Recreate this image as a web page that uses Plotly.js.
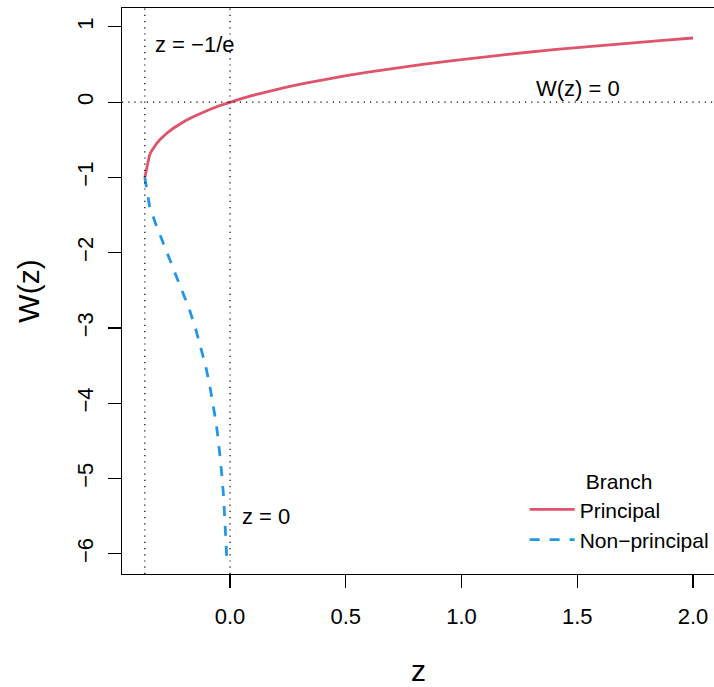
<!DOCTYPE html>
<html>
<head>
<meta charset="utf-8">
<script src="https://cdn.plot.ly/plotly-3.0.1.min.js"></script>
<style>
  html, body { margin: 0; padding: 0; overflow: hidden; background: #fff; }
  #chart { width: 716px; height: 687px; }
</style>
</head>
<body>
<div id="chart"></div>
<script>
// Lambert W function: principal branch W0 and the non-principal branch W-1
const principalZ = [-0.36788, -0.34761, -0.33933, -0.32929, -0.31732, -0.30327, -0.28693,
  -0.26813, -0.24664, -0.22225, -0.19470, -0.16375, -0.12911, -0.09048, -0.04756, 0.0,
  0.05256, 0.11052, 0.17427, 0.24428, 0.32101, 0.40496, 0.49667, 0.59673, 0.70574,
  0.82436, 0.95329, 1.09327, 1.24510, 1.40963, 1.58775, 1.78043, 1.88252, 2.0];
const principalW = [-1.0, -0.70, -0.65, -0.60, -0.55, -0.50, -0.45,
  -0.40, -0.35, -0.30, -0.25, -0.20, -0.15, -0.10, -0.05, 0.0,
  0.05, 0.10, 0.15, 0.20, 0.25, 0.30, 0.35, 0.40, 0.45,
  0.50, 0.55, 0.60, 0.65, 0.70, 0.75, 0.80, 0.825, 0.8526];

const otherZ = [-0.36788, -0.34813, -0.32303, -0.29754, -0.27067, -0.23715, -0.20521,
  -0.17580, -0.14936, -0.12602, -0.10569, -0.08819, -0.07326, -0.06062, -0.04999,
  -0.04110, -0.03369, -0.02755, -0.02248, -0.01830, -0.01487, -0.01368];
const otherW = [-1.0, -1.37, -1.6, -1.8, -2.0, -2.25, -2.5,
  -2.75, -3.0, -3.25, -3.5, -3.75, -4.0, -4.25, -4.5,
  -4.75, -5.0, -5.25, -5.5, -5.75, -6.0, -6.1];

const branchNames = ['Principal', 'Non\u2212principal'];
const branchColors = ['#DF536B', '#2297E6'];

const xTicks = [0, 0.5, 1.0, 1.5, 2.0];
const yTicks = [-6, -5, -4, -3, -2, -1, 0, 1];

const branchPoint = -1 / Math.E;

const FONT = 'Liberation Sans, Arial, Helvetica, sans-serif';

const traces = [
  {
    x: principalZ, y: principalW, type: 'scatter', mode: 'lines',
    name: branchNames[0],
    line: { color: branchColors[0], width: 2.8 }
  },
  {
    x: otherZ, y: otherW, type: 'scatter', mode: 'lines',
    name: branchNames[1],
    line: { color: branchColors[1], width: 2.8, dash: '10px,10px' }
  }
];

const dotted = { color: '#000', width: 1.2, dash: '1.2px,5px' };

const layout = {
  width: 716, height: 687,
  margin: { l: 122, r: 1, t: 8, b: 113 },
  paper_bgcolor: '#fff', plot_bgcolor: '#fff',
  font: { family: FONT, size: 22, color: '#000' },
  showlegend: true,
  legend: {
    x: 0.679, xanchor: 'left', y: 0.198, yanchor: 'top',
    bgcolor: 'rgba(0,0,0,0)', borderwidth: 0,
    itemwidth: 45,
    font: { family: FONT, size: 21, color: '#000' },
    title: { text: 'Branch', side: 'top center', font: { family: FONT, size: 21, color: '#000' } }
  },
  xaxis: {
    range: [-0.4665, 2.0947],
    tickvals: xTicks, tickformat: '.1f',
    ticks: 'outside', ticklen: 13, tickwidth: 1.2, tickcolor: '#000',
    ticklabelstandoff: 9,
    showline: true, linecolor: '#000', linewidth: 1.2, mirror: true,
    showgrid: false, zeroline: false,
    tickfont: { family: FONT, size: 22 },
    title: { text: 'z', font: { family: FONT, size: 30 }, standoff: 36 }
  },
  yaxis: {
    range: [-6.268, 1.251],
    tickvals: yTicks, tickangle: -90,
    ticks: 'outside', ticklen: 13, tickwidth: 1.2, tickcolor: '#000',
    ticklabelstandoff: 6,
    showline: true, linecolor: '#000', linewidth: 1.2, mirror: true,
    showgrid: false, zeroline: false,
    tickfont: { family: FONT, size: 22 },
    title: { text: 'W(z)', font: { family: FONT, size: 30 }, standoff: 24 }
  },
  shapes: [
    { type: 'line', xref: 'x', yref: 'paper', x0: branchPoint, x1: branchPoint, y0: 0, y1: 1, line: dotted },
    { type: 'line', xref: 'x', yref: 'paper', x0: 0, x1: 0, y0: 0, y1: 1, line: dotted },
    { type: 'line', xref: 'paper', yref: 'y', x0: 0, x1: 1, y0: 0, y1: 0, line: dotted }
  ],
  annotations: [
    { x: -0.3326, y: 0.772, xref: 'x', yref: 'y', text: 'z = \u22121/e', showarrow: false,
      xanchor: 'left', yanchor: 'middle', font: { family: FONT, size: 22 } },
    { x: 1.503, y: 0.186, xref: 'x', yref: 'y', text: 'W(z) = 0', showarrow: false,
      xanchor: 'center', yanchor: 'middle', font: { family: FONT, size: 22 } },
    { x: 0.043, y: -5.51, xref: 'x', yref: 'y', text: 'z = 0', showarrow: false,
      xanchor: 'left', yanchor: 'middle', font: { family: FONT, size: 22 } }
  ]
};

Plotly.newPlot('chart', traces, layout, { displayModeBar: false, staticPlot: true });
</script>
</body>
</html>
